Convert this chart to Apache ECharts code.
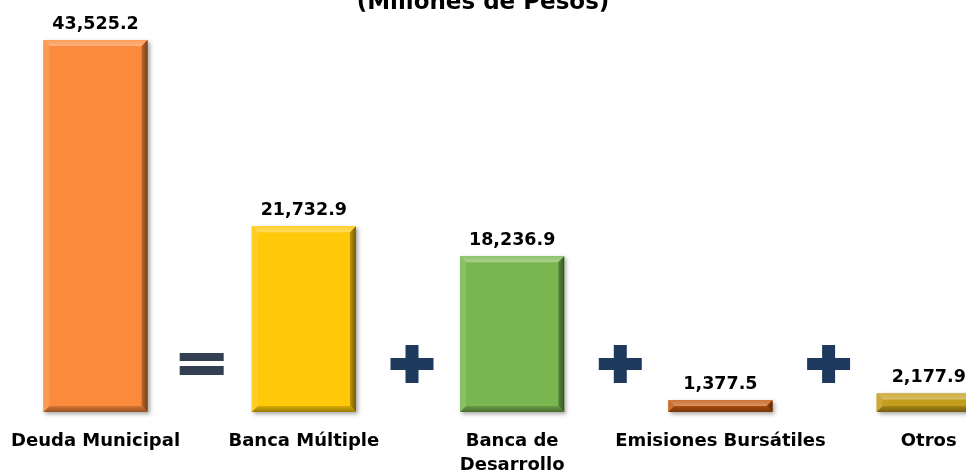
<!DOCTYPE html>
<html>
<head>
<meta charset="utf-8">
<script src="https://cdn.jsdelivr.net/npm/echarts@6/dist/echarts.min.js"></script>
<style>html,body{margin:0;padding:0;background:#fff}#c{width:966px;height:474px}</style>
</head>
<body>
<div id="c"></div>
<script>
const categories = ['Deuda Municipal', 'Banca Múltiple', 'Banca de\nDesarrollo', 'Emisiones Bursátiles', 'Otros'];
const values = [43525.2, 21732.9, 18236.9, 1377.5, 2177.9];
const barColors = ['#fb8a3c', '#ffc90a', '#7ab751', '#c55a11', '#c59d1c'];
const operators = ['', '=', '+', '+', '+'];
const titleText = '(Millones de Pesos)';

const FONT = 'DejaVu Sans';

function shade(hex, f) {
  const n = parseInt(hex.slice(1), 16);
  let r = (n >> 16) & 255, g = (n >> 8) & 255, b = n & 255;
  if (f >= 0) { r += (255 - r) * f; g += (255 - g) * f; b += (255 - b) * f; }
  else { r *= (1 + f); g *= (1 + f); b *= (1 + f); }
  return 'rgb(' + Math.round(r) + ',' + Math.round(g) + ',' + Math.round(b) + ')';
}
function fmt(v) {
  return v.toLocaleString('en-US', {minimumFractionDigits: 1, maximumFractionDigits: 1});
}

const data = values.map((v, i) => [i, v]);

function renderItem(params, api) {
  const idx = api.value(0), val = api.value(1);
  const top = api.coord([idx, val]);
  const base = api.coord([idx, 0]);
  const band = api.size([1, 0])[0];
  const w = band * 0.5;
  const x = top[0] - w / 2, y = top[1], h = base[1] - top[1];
  const c = barColors[idx];
  const b = Math.min(6, h / 2);
  const children = [];
  children.push({type: 'rect', shape: {x: x, y: y, width: w, height: h},
    style: {fill: c, shadowBlur: 4, shadowOffsetX: 2, shadowOffsetY: 2, shadowColor: 'rgba(0,0,0,0.35)'}});
  children.push({type: 'polygon', shape: {points: [[x, y], [x + w, y], [x + w - b, y + b], [x + b, y + b]]},
    style: {fill: {type: 'linear', x: 0, y: 0, x2: 0, y2: 1, colorStops: [{offset: 0, color: shade(c, 0.15)}, {offset: 1, color: shade(c, 0.35)}]}}});
  children.push({type: 'polygon', shape: {points: [[x, y], [x + b, y + b], [x + b, y + h - b], [x, y + h]]},
    style: {fill: shade(c, 0.12)}});
  children.push({type: 'polygon', shape: {points: [[x + w, y], [x + w, y + h], [x + w - b, y + h - b], [x + w - b, y + b]]},
    style: {fill: {type: 'linear', x: 0, y: 0, x2: 1, y2: 0, colorStops: [{offset: 0, color: shade(c, -0.25)}, {offset: 1, color: shade(c, -0.55)}]}}});
  children.push({type: 'polygon', shape: {points: [[x, y + h], [x + w, y + h], [x + w - b, y + h - b], [x + b, y + h - b]]},
    style: {fill: {type: 'linear', x: 0, y: 0, x2: 0, y2: 1, colorStops: [{offset: 0, color: shade(c, -0.15)}, {offset: 1, color: shade(c, -0.4)}]}}});
  children.push({type: 'text', style: {text: fmt(val), x: top[0], y: y - 7, align: 'center', verticalAlign: 'bottom',
    fill: '#000', font: 'bold 17.5px "' + FONT + '"'}});
  const op = operators[idx];
  if (op) {
    const cx = top[0] - band / 2 + 4, cy = base[1] - 48;
    if (op === '=') {
      children.push({type: 'rect', shape: {x: cx - 24, y: cy - 11, width: 44, height: 8}, style: {fill: '#333f50'}});
      children.push({type: 'rect', shape: {x: cx - 24, y: cy + 2, width: 44, height: 9}, style: {fill: '#333f50'}});
    } else {
      children.push({type: 'rect', shape: {x: cx - 21.5, y: cy - 6, width: 43, height: 12}, style: {fill: '#1e3a5f'}});
      children.push({type: 'rect', shape: {x: cx - 6.5, y: cy - 19, width: 13, height: 38}, style: {fill: '#1e3a5f'}});
    }
  }
  return {type: 'group', children: children};
}

const chart = echarts.init(document.getElementById('c'), null, {renderer: 'canvas'});
chart.setOption({
  animation: false,
  backgroundColor: '#fff',
  title: {text: titleText, left: 'center', top: -13,
    textStyle: {fontSize: 23, fontWeight: 'bold', fontFamily: FONT, color: '#000'}},
  grid: {left: -8.6, width: 1041.5, top: 40, bottom: 62, containLabel: false, outerBoundsMode: 'none'},
  xAxis: {type: 'category', data: categories,
    axisLine: {show: false}, axisTick: {show: false}, splitLine: {show: false},
    axisLabel: {interval: 0, margin: 17, color: '#000', fontWeight: 'bold', fontSize: 18, fontFamily: FONT, lineHeight: 24}},
  yAxis: {type: 'value', min: 0, max: 'dataMax', show: false, splitLine: {show: false}},
  series: [{type: 'custom', renderItem: renderItem, data: data, clip: false}]
});
</script>
</body>
</html>
